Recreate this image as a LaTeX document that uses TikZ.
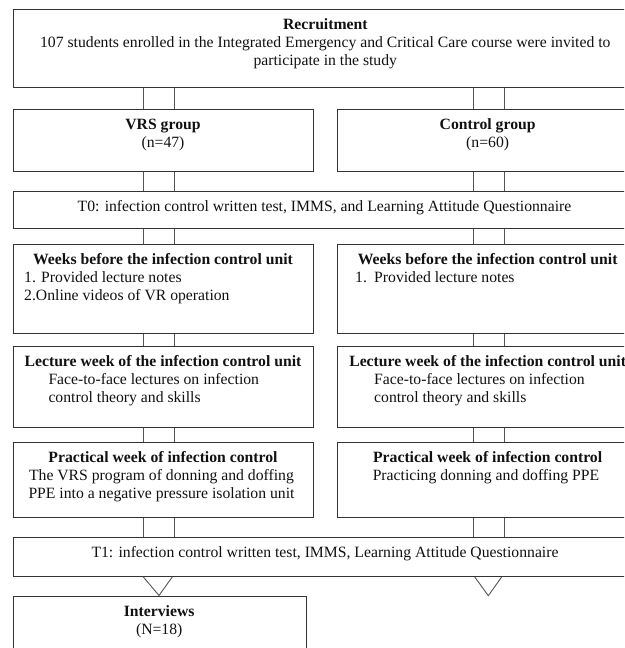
\documentclass[tikz,border=0pt]{standalone}
\usepackage{fontspec}
\setmainfont{Liberation Serif}
\definecolor{boxc}{HTML}{333333}
\definecolor{linkc}{HTML}{555555}
\definecolor{textc}{HTML}{111111}
\newcommand{\fsz}{\fontsize{15.7}{18}\selectfont}
\begin{document}
\begin{tikzpicture}[x=1pt,y=-1pt,
  box/.style={draw=boxc, line width=0.9pt, inner sep=0pt, anchor=north west},
  wbox/.style={box, minimum width=625.2pt},
  cbox/.style={box, minimum width=300.5pt},
  hd/.style={font=\fsz\bfseries, text=textc, anchor=base, inner sep=0pt, align=center},
  txt/.style={font=\fsz, text=textc, anchor=base, inner sep=0pt, align=center},
  txtl/.style={font=\fsz, text=textc, anchor=base west, inner sep=0pt, align=left},
  link/.style={draw=linkc, line width=0.9pt}]
\useasboundingbox (0,0) rectangle (624,648);
\clip (0,0) rectangle (624,648);
% boxes
\node[wbox, minimum height=78pt] (rec) at (12.7,9.3) {};
\node[cbox, minimum height=61.4pt] (vrs) at (12.7,109.3) {};
\node[cbox, minimum height=61.4pt] (ctl) at (337.4,109.3) {};
\node[wbox, minimum height=36.7pt] (t0) at (12.7,191) {};
\node[cbox, minimum height=89.3pt] (wkL) at (12.7,244) {};
\node[cbox, minimum height=89.3pt] (wkR) at (337.4,244) {};
\node[cbox, minimum height=80.7pt] (lecL) at (12.7,346) {};
\node[cbox, minimum height=80.7pt] (lecR) at (337.4,346) {};
\node[cbox, minimum height=75.3pt] (prL) at (12.7,442) {};
\node[cbox, minimum height=75.3pt] (prR) at (337.4,442) {};
\node[wbox, minimum height=39.3pt] (t1) at (12.7,536.7) {};
\node[box, minimum width=293pt, minimum height=70pt] (int) at (12.7,596) {};
% texts (base anchor = baseline of the last line)
\node[txt] (recT) at (325.3,65.9) {\textbf{Recruitment}\\107 students enrolled in the Integrated Emergency and Critical Care course were invited to\\participate in the study};
\node[txt] (vrsT) at (163,147.9) {\textbf{VRS group}\\(n=47)};
\node[txt] (ctlT) at (487.65,147.9) {\textbf{Control group}\\(n=60)};
\node[txt] (t0T) at (324.5,211.6) {T0: infection control written test, IMMS, and Learning Attitude Questionnaire};
\node[hd] (wkLH) at (163,264.6) {Weeks before the infection control unit};
\node[txtl] (wkLB) at (24,300.6) {1. Provided lecture notes\\2.Online videos of VR operation};
\node[hd] (wkRH) at (487.65,264.6) {Weeks before the infection control unit};
\node[txtl] (wkRB) at (355,282.6) {\makebox[19pt][l]{1.}Provided lecture notes};
\node[hd] (lecLH) at (163,366.6) {Lecture week of the infection control unit};
\node[txtl] (lecLB) at (48.3,402.6) {Face-to-face lectures on infection\\control theory and skills};
\node[hd] (lecRH) at (487.65,366.6) {Lecture week of the infection control unit};
\node[txtl] (lecRB) at (374,402.6) {Face-to-face lectures on infection\\control theory and skills};
\node[hd] (prLH) at (163,462.6) {Practical week of infection control};
\node[txt] (prLB) at (161.5,498.6) {The VRS program of donning and doffing\\PPE into a negative pressure isolation unit};
\node[hd] (prRH) at (487.65,462.6) {Practical week of infection control};
\node[txt] (prRB) at (486,480.6) {Practicing donning and doffing PPE};
\node[txt] (t1T) at (325,557.3) {T1: infection control written test, IMMS, Learning Attitude Questionnaire};
\node[txt] (intT) at (159.2,634.6) {\textbf{Interviews}\\(N=18)};
% connector guides
\coordinate (L1) at (143.3,0);
\coordinate (L2) at (174.3,0);
\coordinate (R1) at (473.3,0);
\coordinate (R2) at (504,0);
\foreach \a/\b/\c/\d in {rec/vrs/rec/ctl, vrs/t0/ctl/t0, t0/wkL/t0/wkR, wkL/lecL/wkR/lecR, lecL/prL/lecR/prR, prL/t1/prR/t1}{
  \draw[link] (\a.south -| L1) -- (\b.north -| L1);
  \draw[link] (\a.south -| L2) -- (\b.north -| L2);
  \draw[link] (\c.south -| R1) -- (\d.north -| R1);
  \draw[link] (\c.south -| R2) -- (\d.north -| R2);
}
% arrowheads (open V)
\coordinate (VL1) at (143.3,0);
\coordinate (VL2) at (172.3,0);
\coordinate (VLa) at (159,595.5);
\coordinate (VR1) at (474.7,0);
\coordinate (VR2) at (501.7,0);
\coordinate (VRa) at (488.3,595.7);
\draw[link] (t1.south -| VL1) -- (VLa) -- (t1.south -| VL2);
\draw[link] (t1.south -| VR1) -- (VRa) -- (t1.south -| VR2);
\end{tikzpicture}
\end{document}
